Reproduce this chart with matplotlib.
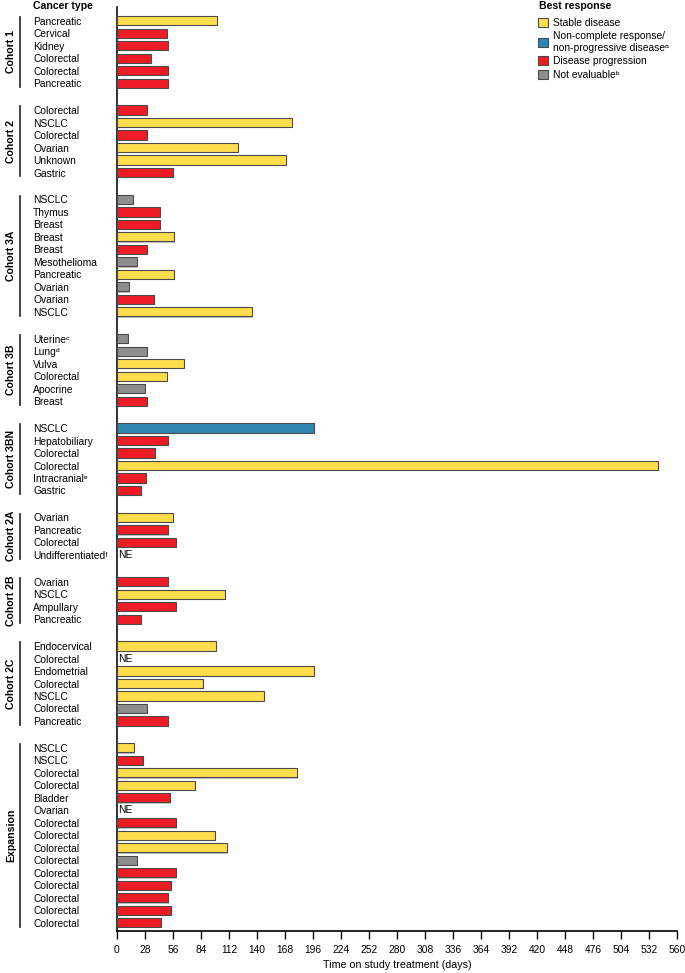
import numpy as np
import matplotlib
matplotlib.use("Agg")
import matplotlib.pyplot as plt
from matplotlib.patches import Patch
import matplotlib.patheffects as pe

plt.rcParams["font.family"] = ["Liberation Sans", "DejaVu Sans"]
FS = 7.4

# ── data ──────────────────────────────────────
cohorts = ["Cohort 1", "Cohort 2", "Cohort 3A", "Cohort 3B", "Cohort 3BN",
           "Cohort 2A", "Cohort 2B", "Cohort 2C", "Expansion"]
cohort_sizes = [6, 6, 10, 6, 6, 4, 4, 7, 15]

cancer_types = [
    # Cohort 1
    "Pancreatic", "Cervical", "Kidney", "Colorectal", "Colorectal", "Pancreatic",
    # Cohort 2
    "Colorectal", "NSCLC", "Colorectal", "Ovarian", "Unknown", "Gastric",
    # Cohort 3A
    "NSCLC", "Thymus", "Breast", "Breast", "Breast", "Mesothelioma",
    "Pancreatic", "Ovarian", "Ovarian", "NSCLC",
    # Cohort 3B
    "Uterineᶜ", "Lungᵈ", "Vulva", "Colorectal", "Apocrine", "Breast",
    # Cohort 3BN
    "NSCLC", "Hepatobiliary", "Colorectal", "Colorectal", "Intracranialᵉ", "Gastric",
    # Cohort 2A
    "Ovarian", "Pancreatic", "Colorectal", "Undifferentiatedᶠ",
    # Cohort 2B
    "Ovarian", "NSCLC", "Ampullary", "Pancreatic",
    # Cohort 2C
    "Endocervical", "Colorectal", "Endometrial", "Colorectal", "NSCLC", "Colorectal", "Pancreatic",
    # Expansion
    "NSCLC", "NSCLC", "Colorectal", "Colorectal", "Bladder", "Ovarian", "Colorectal",
    "Colorectal", "Colorectal", "Colorectal", "Colorectal", "Colorectal", "Colorectal",
    "Colorectal", "Colorectal",
]

# days on treatment (None = not evaluable, no bar)
days = [
    100, 50, 51, 34, 51, 51,
    30, 175, 30, 121, 169, 56,
    16, 43, 43, 57, 30, 20, 57, 12, 37, 135,
    11, 30, 67, 50, 28, 30,
    197, 51, 38, 541, 29, 24,
    56, 51, 59, None,
    51, 108, 59, 24,
    99, None, 197, 86, 147, 30, 51,
    17, 26, 180, 78, 53, None, 59, 98, 110, 20, 59, 54, 51, 54, 44,
]

# SD stable, NCR non-CR/non-PD, PD progression, NE not evaluable
response = [
    "SD", "PD", "PD", "PD", "PD", "PD",
    "PD", "SD", "PD", "SD", "SD", "PD",
    "NE", "PD", "PD", "SD", "PD", "NE", "SD", "NE", "PD", "SD",
    "NE", "NE", "SD", "SD", "NE", "PD",
    "NCR", "PD", "PD", "SD", "PD", "PD",
    "SD", "PD", "PD", None,
    "PD", "SD", "PD", "PD",
    "SD", None, "SD", "SD", "SD", "NE", "PD",
    "SD", "PD", "SD", "SD", "PD", None, "PD", "SD", "SD", "NE", "PD", "PD", "PD", "PD", "PD",
]

xticks = np.arange(0, 561, 28)

colors = {"SD": "#FFDD4D", "NCR": "#2E87B3", "PD": "#ED1C24", "NE": "#8E8E8E"}
legend_labels = {
    "SD": "Stable disease",
    "NCR": "Non-complete response/\nnon-progressive diseaseᵃ",
    "PD": "Disease progression",
    "NE": "Not evaluableᵇ",
}

# ── row positions ─────────────────────────────
GAP = 1.15
ypos = []
group_spans = []
y = 0.0
for size in cohort_sizes:
    start = y
    for _ in range(size):
        ypos.append(y)
        y += 1
    group_spans.append((start, y - 1))
    y += GAP
ypos = np.array(ypos)

# ── figure ────────────────────────────────────
fig = plt.figure(figsize=(6.85, 9.73), dpi=100)
ax = fig.add_axes([117 / 685, 42 / 973, 560 / 685, 924 / 973])

shadow = [pe.SimplePatchShadow(offset=(0.8, -0.8), shadow_rgbFace="#9a9a9a", alpha=0.6), pe.Normal()]
for yi, d, r in zip(ypos, days, response):
    if d is None:
        ax.text(1.5, yi, "NE", va="center", ha="left", fontsize=FS)
        continue
    ax.barh(yi, d, height=0.74, color=colors[r], edgecolor="#4a4a4a",
            linewidth=0.8, path_effects=shadow, zorder=3)

ax.set_ylim(ypos[-1] + 0.66, ypos[0] - 1.1)
ax.set_xlim(0, 560)
ax.set_xticks(xticks)
ax.tick_params(axis="x", labelsize=FS, length=5.5, width=1.0, direction="out", pad=4.5)
ax.set_xlabel("Time on study treatment (days)", fontsize=FS + 0.3, labelpad=3.5)

ax.set_yticks(ypos, cancer_types)
ax.tick_params(axis="y", length=0, pad=84 * 0.72, labelsize=FS)
for lab in ax.get_yticklabels():
    lab.set_horizontalalignment("left")

for side in ("top", "right"):
    ax.spines[side].set_visible(False)
ax.spines["left"].set_linewidth(1.3)
ax.spines["bottom"].set_linewidth(1.2)
ax.spines["left"].set_color("#222222")

# cohort brackets and labels
trans = ax.get_yaxis_transform()
for name, (y0, y1) in zip(cohorts, group_spans):
    ax.plot([-97 / 560, -97 / 560], [y0 - 0.3, y1 + 0.3], color="#222222",
            lw=1.2, transform=trans, clip_on=False)
    ax.text(-106 / 560, (y0 + y1) / 2, name, rotation=90, ha="center", va="center",
            fontsize=FS + 0.2, fontweight="bold", transform=trans)

fig.text(33 / 685, 1 - 6 / 973, "Cancer type", fontsize=FS + 0.2, fontweight="bold",
         ha="left", va="center")

# legend
fig.text(539 / 685, 1 - 6 / 973, "Best response", fontsize=FS + 0.2, fontweight="bold",
         ha="left", va="center")
handles = [Patch(facecolor=colors[k], edgecolor="#4a4a4a", linewidth=0.8,
                 label=legend_labels[k]) for k in ["SD", "NCR", "PD", "NE"]]
leg = fig.legend(handles=handles, loc="upper left", bbox_to_anchor=(538 / 685, 1 - 18 / 973),
                 frameon=False, fontsize=FS, handlelength=1.0,
                 handleheight=1.0, handletextpad=0.45, labelspacing=0.32,
                 borderpad=0, borderaxespad=0)

fig.savefig("out.png", dpi=100)
